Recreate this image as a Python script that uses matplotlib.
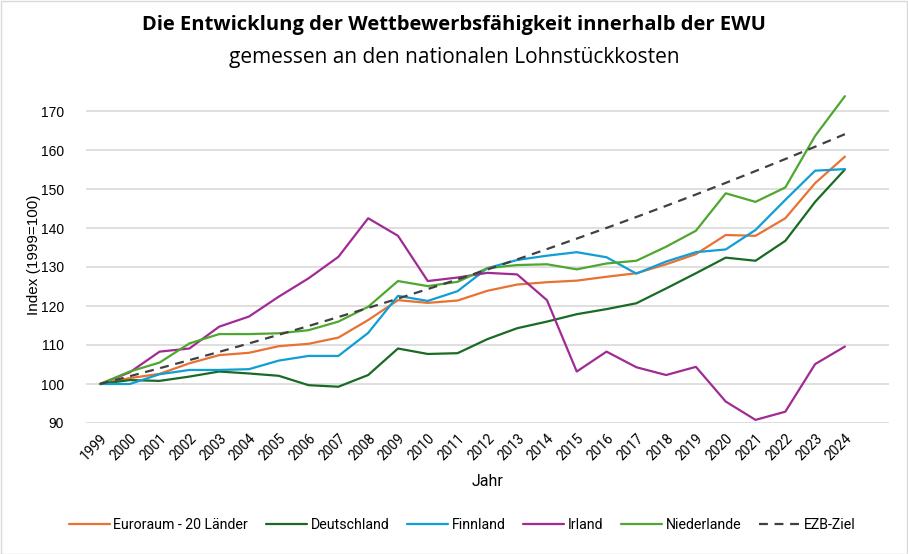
import matplotlib
matplotlib.use("Agg")
import matplotlib.pyplot as plt
from matplotlib.patches import Rectangle

years = list(range(1999, 2025))
euroraum = [100, 101.5, 102.6, 105.3, 107.4, 108.0, 109.7, 110.3, 111.9, 116.4, 121.5, 120.8, 121.4,
            123.9, 125.5, 126.1, 126.5, 127.5, 128.4, 130.7, 133.3, 138.2, 138.0, 142.5, 151.5, 158.3]
deutschland = [100, 101.0, 100.8, 101.9, 103.2, 102.7, 102.1, 99.7, 99.3, 102.3, 109.1, 107.7, 107.9,
               111.5, 114.3, 116.0, 117.9, 119.2, 120.7, 124.5, 128.4, 132.4, 131.6, 136.7, 146.7, 155.0]
finnland = [100, 100.0, 102.5, 103.6, 103.6, 103.8, 106.0, 107.2, 107.2, 113.1, 122.6, 121.3, 123.8,
            129.7, 131.8, 132.9, 133.8, 132.5, 128.3, 131.4, 133.8, 134.5, 139.5, 147.2, 154.7, 155.1]
irland = [100, 103.0, 108.3, 109.1, 114.7, 117.3, 122.4, 127.1, 132.6, 142.5, 138.0, 126.4, 127.3,
          128.5, 128.1, 121.5, 103.2, 108.3, 104.3, 102.3, 104.4, 95.5, 90.8, 92.9, 105.1, 109.6]
niederlande = [100, 103.2, 105.5, 110.4, 112.8, 112.8, 113.0, 113.8, 116.0, 119.8, 126.4, 125.1, 126.2,
               129.7, 130.5, 130.7, 129.4, 130.9, 131.6, 135.2, 139.3, 148.9, 146.7, 150.4, 163.6, 173.8]
ezb_ziel = [100, 102.0, 104.04, 106.12, 108.24, 110.41, 112.62, 114.87, 117.17, 119.51, 121.9, 124.34, 126.82,
            129.36, 131.95, 134.59, 137.28, 140.02, 142.82, 145.68, 148.59, 151.57, 154.6, 157.69, 160.84, 164.06]

series = [
    ("Euroraum - 20 Länder", euroraum, "#E97132", "-"),
    ("Deutschland", deutschland, "#196B24", "-"),
    ("Finnland", finnland, "#0F9ED5", "-"),
    ("Irland", irland, "#A02B93", "-"),
    ("Niederlande", niederlande, "#4EA72E", "-"),
    ("EZB-Ziel", ezb_ziel, "#404040", "--"),
]
yticks = [90, 100, 110, 120, 130, 140, 150, 160, 170]

narrow = ["Roboto", "DejaVu Sans"]
plt.rcParams["font.family"] = ["Liberation Sans", "DejaVu Sans"]

fig = plt.figure(figsize=(9.08, 5.54), dpi=100)
ax = fig.add_axes([86 / 908, 1 - 423 / 554, (889 - 86) / 908, (423 - 87.6) / 554])

x = list(range(len(years)))
for name, vals, col, ls in series:
    ax.plot(x, vals, color=col, lw=1.6, ls=ls, label=name,
            dashes=(4, 3) if ls == "--" else (None, None), solid_capstyle="round")

ax.set_xlim(-0.47, 26.48)
ax.set_ylim(90, 176)
ax.set_yticks(yticks)
ax.set_yticklabels([str(v) for v in yticks], fontsize=10)
ax.set_xticks(x)
ax.set_xticklabels([str(y) for y in years], rotation=45, ha="right", rotation_mode="anchor",
                   fontsize=10, family=narrow)
ax.tick_params(axis="both", length=0, pad=6)
ax.tick_params(axis="y", pad=16)
ax.grid(axis="y", color="#D9D9D9", lw=1.2)
ax.set_axisbelow(True)
for s in ax.spines.values():
    s.set_visible(False)

ax.set_ylabel("Index (1999=100)", fontsize=11)
ax.yaxis.set_label_coords(-0.056, 0.5)
fig.text(487.5 / 908, 1 - 482 / 554, "Jahr", ha="center", va="center", fontsize=11.5, family=narrow)

fig.text(0.5, 1 - 25 / 554, "Die Entwicklung der Wettbewerbsfähigkeit innerhalb der EWU",
         ha="center", va="center", fontsize=14.5, fontweight="bold", family=["Open Sans", "DejaVu Sans"])
fig.text(0.5, 1 - 57 / 554, "gemessen an den nationalen Lohnstückkosten",
         ha="center", va="center", fontsize=15, family=["Open Sans", "DejaVu Sans"])

leg = fig.legend(loc="center", bbox_to_anchor=(462 / 908, 1 - 525 / 554), ncol=6, frameon=False,
                 prop={"family": narrow, "size": 10.2}, handlelength=2.9, handletextpad=0.25,
                 columnspacing=1.25)

fig.add_artist(Rectangle((0.5 / 908, 0.5 / 554), 1 - 1.5 / 908, 1 - 1.5 / 554, transform=fig.transFigure,
                         fill=False, edgecolor="#D9D9D9", lw=1))

fig.savefig("out.png", dpi=100)
